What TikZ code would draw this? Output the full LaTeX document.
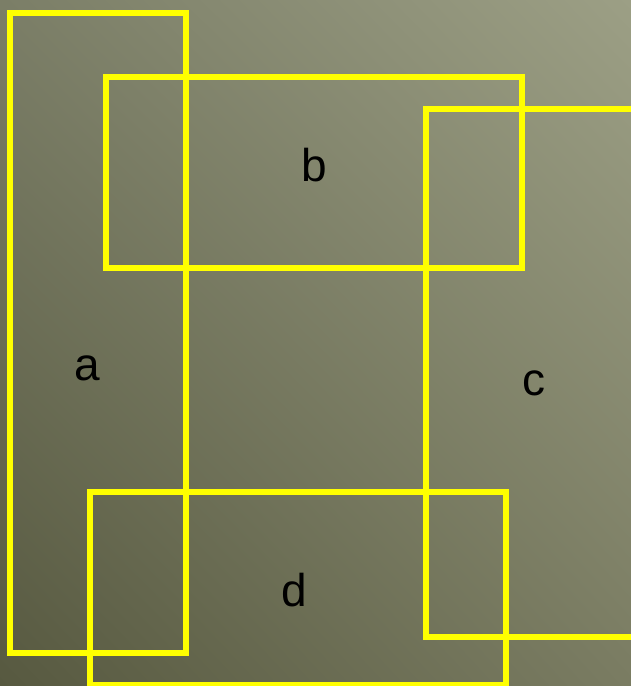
\documentclass[tikz,border=0pt]{standalone}
\usepackage{fontspec}
\setmainfont{Liberation Sans}
\usetikzlibrary{shadings}
\definecolor{bgLL}{HTML}{575940}
\definecolor{bgUR}{HTML}{9C9F85}
\definecolor{bgUL}{HTML}{7B7E67}
\definecolor{bgLR}{HTML}{7A7C62}
\definecolor{boxyellow}{HTML}{FFFF00}
\begin{document}
\begin{tikzpicture}[x=1pt,y=-1pt,
  setbox/.style={draw=boxyellow,line width=6pt},
  setlabel/.style={font=\fontsize{46}{46}\selectfont,text=black,inner sep=0pt}]
\useasboundingbox (0,0) rectangle (631,686);
\clip (0,0) rectangle (631,686);
\shade[upper left=bgUL,upper right=bgUR,lower left=bgLL,lower right=bgLR] (0,686) rectangle (631,0);
\draw[setbox] (10,13) rectangle (186,653);
\draw[setbox] (106,77) rectangle (522,268);
\draw[setbox] (426,109) rectangle (650,637);
\draw[setbox] (90,492) rectangle (506,685);
\node[setlabel] (a) at (87,368) {a};
\node[setlabel] (b) at (314,165) {b};
\node[setlabel] (c) at (534,383) {c};
\node[setlabel] (d) at (294,590) {d};
\end{tikzpicture}
\end{document}
